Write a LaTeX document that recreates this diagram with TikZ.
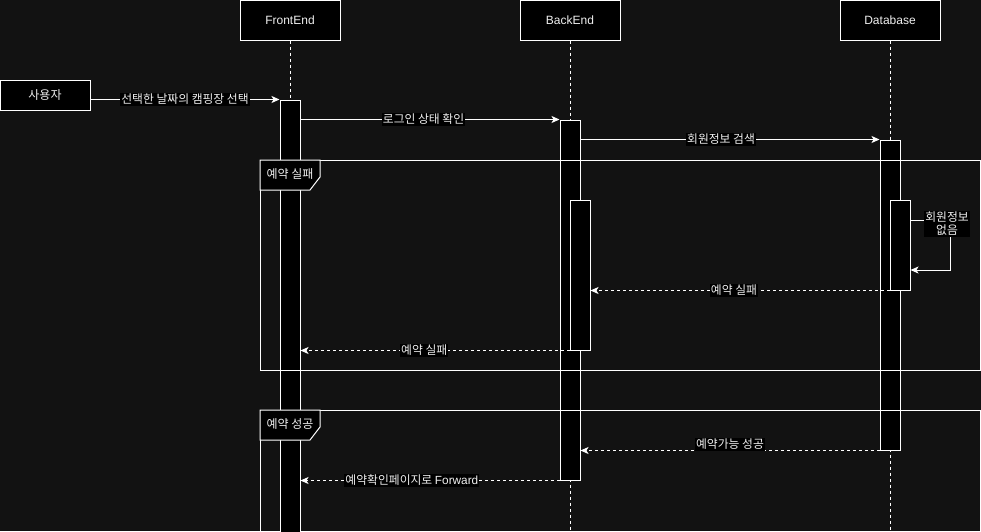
\documentclass[tikz,border=0pt]{standalone}
\usepackage{fontspec}
\setmainfont{Liberation Sans}
\newfontfamily\kr{Noto Sans CJK KR}
\usetikzlibrary{arrows.meta}
\definecolor{bg}{HTML}{121212}
\definecolor{fg}{HTML}{F0F0F0}
\tikzset{
  hdr/.style={draw=white, fill=black, text=fg, minimum width=100pt, minimum height=40pt, inner sep=0pt, line width=1pt, font=\fontsize{12}{14}\selectfont},
  userbox/.style={hdr, minimum width=90pt, minimum height=30pt, font=\kr\fontsize{12}{14}\selectfont},
  act/.style={draw=white, fill=black, minimum width=20pt, inner sep=0pt, line width=1pt},
  life/.style={draw=white, line width=1pt, dash pattern=on 3pt off 3pt},
  msg/.style={draw=white, line width=1pt, -{Stealth[length=8pt,width=7pt,inset=2pt]}},
  ret/.style={msg, dash pattern=on 3pt off 3pt},
  lbl/.style={fill=black, text=fg, inner sep=1pt, font=\kr\fontsize{11.8}{12}\selectfont},
  framebox/.style={draw=white, line width=1pt},
  tag/.style={draw=white, fill=black, line width=1pt},
  tagtext/.style={text=fg, inner sep=0pt, font=\kr\fontsize{12}{14}\selectfont}
}
\begin{document}
\begin{tikzpicture}[x=1pt,y=-1pt]
\useasboundingbox (0,0) rectangle (981,531);
\fill[bg] (0,0) rectangle (981,531);

% headers
\node[hdr] (fe) at (290,20) {FrontEnd};
\node[hdr] (be) at (570,20) {BackEnd};
\node[hdr] (db) at (890,20) {Database};
\node[userbox] (user) at (45,95) {사용자};

% lifelines
\coordinate (bot) at (0,560);
\draw[life] (fe.south) -- (fe.south |- bot);
\draw[life] (be.south) -- (be.south |- bot);
\draw[life] (db.south) -- (db.south |- bot);

% activations
\node[act, minimum height=440pt] (feact) at (290,320) {};
\node[act, minimum height=360pt] (beact) at (570,300) {};
\node[act, minimum height=150pt] (beact2) at (580,275) {};
\node[act, minimum height=310pt] (dbact) at (890,295) {};
\node[act, minimum height=90pt] (dbact2) at (900,245) {};

% messages
\draw[msg] (user.east |- feact.north west) -- (feact.north west)
  node[lbl, pos=0.5] {선택한 날짜의 캠핑장 선택};
\draw[msg] (feact.east |- beact.north west) -- (beact.north west)
  node[lbl, pos=0.475] {로그인 상태 확인};
\draw[msg] (beact.east |- dbact.north west) -- (dbact.north west)
  node[lbl, pos=0.47] {회원정보 검색};

% self message
\coordinate (s1) at (950,220);
\coordinate (s2) at (950,270);
\draw[msg] (dbact2.east |- s1) -- (s1) -- (s2) -- (dbact2.east |- s2);
\node[lbl, align=center, font=\kr\fontsize{11.8}{13}\selectfont] (selflbl) at (947,224) {회원정보\\없음};

% returns
\draw[ret] (dbact2.south west) -- (beact2.east |- dbact2.south)
  node[lbl, pos=0.52] {예약 실패};
\draw[ret] (beact2.south west) -- (feact.east |- beact2.south)
  node[lbl, pos=0.54] {예약 실패};
\draw[ret] (dbact.south west) -- (beact.east |- dbact.south)
  node[lbl, pos=0.5, yshift=6pt] {예약가능 성공};
\draw[ret] (beact.south west) -- (feact.east |- beact.south)
  node[lbl, pos=0.57] {예약확인페이지로 {\rmfamily Forward}};

% frames
\draw[framebox] (260,160) rectangle (980,370);
\draw[tag] (260,160) -- (320,160) -- (320,177) -- (310,190) -- (260,190) -- cycle;
\node[tagtext] (t1) at (290,174) {예약 실패};

\draw[framebox] (260,410) rectangle (980,560);
\draw[tag] (260,410) -- (320,410) -- (320,427) -- (310,440) -- (260,440) -- cycle;
\node[tagtext] (t2) at (290,424) {예약 성공};
\end{tikzpicture}
\end{document}
